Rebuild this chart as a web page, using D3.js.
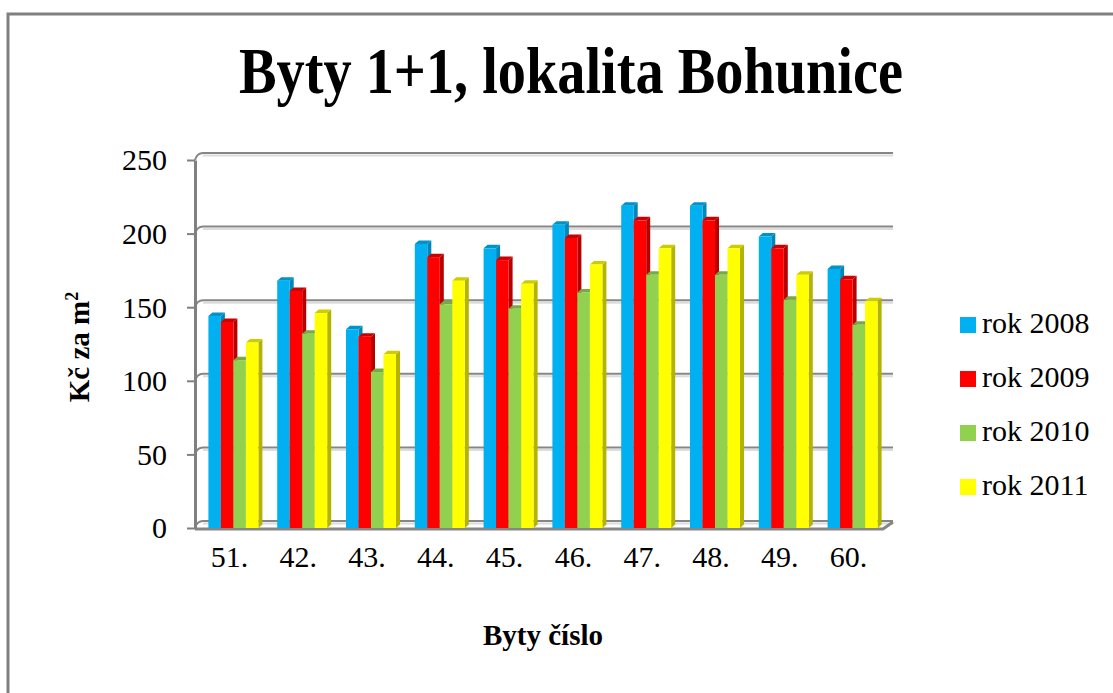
<!DOCTYPE html>
<html lang="cs">
  <head>
    <meta charset="utf-8">
    <title>Byty 1+1, lokalita Bohunice</title>
    <script type="text/javascript" src="https://cdnjs.cloudflare.com/ajax/libs/d3/7.8.5/d3.min.js"></script>
    <style>
      body { margin: 0; background: #fff; }
      text { font-family: "Liberation Serif", "Times New Roman", serif; fill: #000; }
    </style>
  </head>
  <body>
    <script type="text/javascript">
    // data
    var byty = ["51.", "42.", "43.", "44.", "45.", "46.", "47.", "48.", "49.", "60."];
    var roky = ["rok 2008", "rok 2009", "rok 2010", "rok 2011"];
    var rok2008 = [144, 168, 135, 193, 190, 206, 219, 219, 198, 176];
    var rok2009 = [140, 161, 130, 184, 182, 197, 209, 209, 190, 169];
    var rok2010 = [114, 132, 106, 152, 149, 160, 172, 172, 155, 138];
    var rok2011 = [126, 146, 118, 168, 166, 179, 190, 190, 172, 154];
    var yTicks = [0, 50, 100, 150, 200, 250];

    var serie = [rok2008, rok2009, rok2010, rok2011];
    // front, side, top colours for each series
    var barvy = [
      ["#00b0f0", "#0086b8", "#0092c8"],
      ["#ff0000", "#b80000", "#cc0000"],
      ["#92d050", "#6b9a3a", "#78aa44"],
      ["#ffff00", "#b3b300", "#cccc00"]
    ];

    var w = 1113;
    var h = 693;
    var dx = 8, dy = -7;   // 3d depth of the back wall

    var svg = d3.select("body")
                .append("svg")
                .attr("width", w)
                .attr("height", h);

    // outer frame
    svg.append("rect")
       .attr("x", 8).attr("y", 14)
       .attr("width", 1200).attr("height", 800)
       .attr("fill", "none")
       .attr("stroke", "#808080")
       .attr("stroke-width", 3);

    var plotLeft = 195, plotRight = 883, plotBottom = 528, plotTop = 160;

    var y = d3.scaleLinear().domain([0, 250]).range([plotBottom, plotTop]);
    var x0 = d3.scaleBand().domain(byty).range([plotLeft, plotRight]);
    var x1 = d3.scaleBand().domain(d3.range(4)).range([0, 50]);

    // back wall gridlines with light shadow
    var grid = svg.append("g");
    yTicks.forEach(function(t) {
      var yb = y(t) + dy;
      grid.append("line")
          .attr("x1", plotLeft + dx).attr("x2", plotRight + dx + 2)
          .attr("y1", yb + 2.5).attr("y2", yb + 2.5)
          .attr("stroke", "#dcdcdc").attr("stroke-width", 2);
      grid.append("line")
          .attr("x1", plotLeft + dx).attr("x2", plotRight + dx + 2)
          .attr("y1", yb).attr("y2", yb)
          .attr("stroke", "#868686").attr("stroke-width", 2);
      // little hook from axis to back wall
      grid.append("path")
          .attr("d", "M" + plotLeft + "," + y(t) + " Q" + (plotLeft + 2) + "," + (y(t) + dy) + " " + (plotLeft + dx) + "," + (y(t) + dy))
          .attr("fill", "none")
          .attr("stroke", "#868686").attr("stroke-width", 2);
    });

    // floor
    svg.append("path")
       .attr("d", "M" + plotLeft + "," + (plotBottom + 1) + " L" + plotRight + "," + (plotBottom + 1) +
                  " L" + (plotRight + dx + 2) + "," + (plotBottom + 1 + dy))
       .attr("fill", "none")
       .attr("stroke", "#868686")
       .attr("stroke-width", 3);

    // bars, drawn left to right so each front face covers the previous side face
    var bars = svg.append("g");
    byty.forEach(function(b, i) {
      serie.forEach(function(s, j) {
        var bx = x0(b) + (x0.bandwidth() - 50) / 2 + x1(j) + 4;
        var bw = x1.bandwidth();
        var by = y(s[i]);
        var d = 4, e = -3.5;
        bars.append("path")
            .attr("d", "M" + (bx + bw) + "," + by + " L" + (bx + bw + d) + "," + (by + e) +
                       " L" + (bx + bw + d) + "," + (plotBottom + e) + " L" + (bx + bw) + "," + plotBottom + "Z")
            .attr("fill", barvy[j][1]);
        bars.append("path")
            .attr("d", "M" + bx + "," + by + " L" + (bx + d) + "," + (by + e) +
                       " L" + (bx + bw + d) + "," + (by + e) + " L" + (bx + bw) + "," + by + "Z")
            .attr("fill", barvy[j][2]);
        bars.append("rect")
            .attr("x", bx).attr("y", by)
            .attr("width", bw).attr("height", plotBottom - by)
            .attr("fill", barvy[j][0]);
      });
    });

    // y axis
    var yAxis = svg.append("g")
       .attr("transform", "translate(" + plotLeft + ",0)")
       .call(d3.axisLeft(y).tickValues(yTicks).tickSize(8).tickSizeOuter(0).tickPadding(20));
    yAxis.select(".domain").attr("stroke", "#808080").attr("stroke-width", 3);
    yAxis.selectAll(".tick line").attr("stroke", "#808080").attr("stroke-width", 2);
    yAxis.selectAll(".tick text")
         .attr("font-family", "Liberation Serif")
         .attr("font-size", 30)
         .attr("dy", "0.33em");

    // x axis labels
    var xAxis = svg.append("g")
       .attr("transform", "translate(0," + plotBottom + ")")
       .call(d3.axisBottom(x0).tickSize(0).tickPadding(39));
    xAxis.select(".domain").remove();
    xAxis.selectAll(".tick text")
         .attr("font-family", "Liberation Serif")
         .attr("font-size", 30)
         .attr("dy", "0em");

    // title
    svg.append("text")
       .attr("x", 571).attr("y", 93)
       .attr("text-anchor", "middle")
       .attr("font-size", 66)
       .attr("font-weight", "bold")
       .attr("textLength", 664)
       .attr("lengthAdjust", "spacingAndGlyphs")
       .text("Byty 1+1, lokalita Bohunice");

    // axis titles
    svg.append("text")
       .attr("x", 543).attr("y", 645)
       .attr("text-anchor", "middle")
       .attr("font-size", 29)
       .attr("font-weight", "bold")
       .text("Byty číslo");

    var yt = svg.append("text")
       .attr("transform", "translate(89,347) rotate(-90)")
       .attr("text-anchor", "middle")
       .attr("font-size", 29)
       .attr("font-weight", "bold");
    yt.append("tspan").text("Kč za m");
    yt.append("tspan").attr("font-size", 18).attr("dy", -11).text("2");

    // legend
    var legend = svg.append("g");
    roky.forEach(function(r, j) {
      var ly = 333 + j * 54;
      legend.append("rect")
            .attr("x", 960).attr("y", ly - 16)
            .attr("width", 16).attr("height", 16)
            .attr("fill", barvy[j][0]);
      legend.append("text")
            .attr("x", 982).attr("y", ly)
            .attr("font-size", 30)
            .text(r);
    });

    </script>
  </body>
</html>
